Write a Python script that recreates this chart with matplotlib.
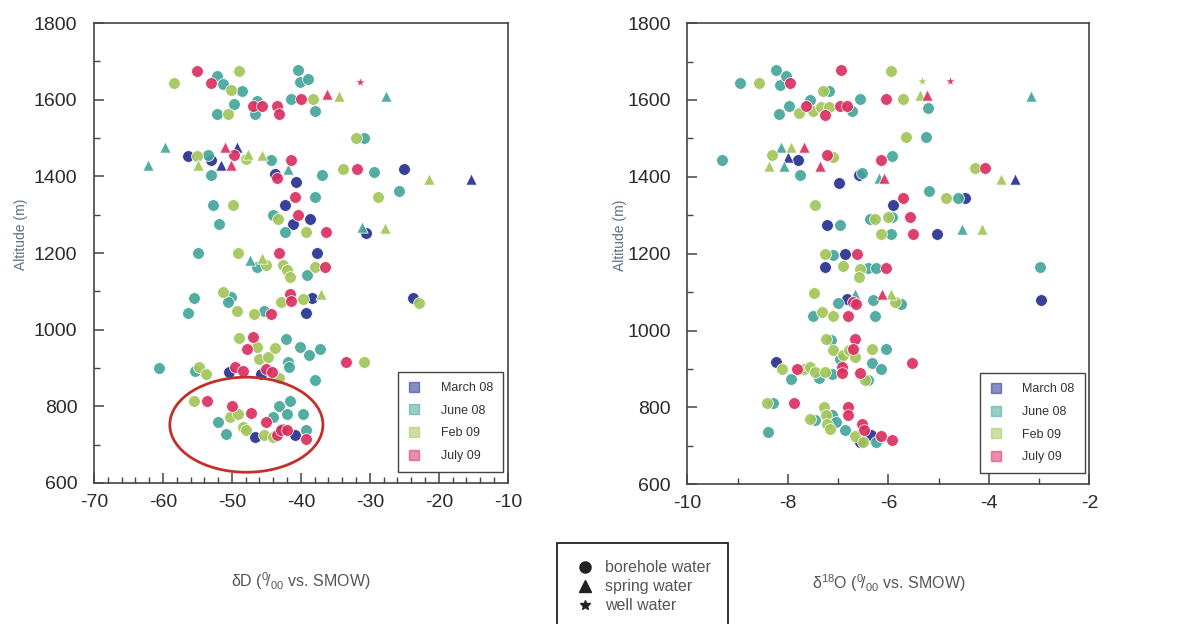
import matplotlib
matplotlib.use("Agg")
import matplotlib.pyplot as plt
from matplotlib.lines import Line2D
from matplotlib.patches import Ellipse
from matplotlib.ticker import MultipleLocator

plt.rcParams['font.family'] = ['Liberation Sans', 'DejaVu Sans']
plt.rcParams['mathtext.fontset'] = 'custom'
plt.rcParams['mathtext.rm'] = 'Liberation Sans'
plt.rcParams['mathtext.it'] = 'Liberation Sans'
plt.rcParams['axes.unicode_minus'] = False

seasons = ['March 08', 'June 08', 'Feb 09', 'July 09']
season_colors = ['#27318f', '#45a69b', '#a3c65a', '#da2f60']
water_types = ['borehole water', 'spring water', 'well water']

# ---- left panel: dD vs altitude  (kind: o borehole, ^ spring, * well)
dD_mar_x = [-56.4, -53.0, -43.8, -40.7, -25.1, -42.3, -41.2, -38.7, -30.5, -37.6, -38.4, -39.3, -23.8,
            -50.4, -45.8, -46.7, -42.7, -40.9, -51.6, -49.2, -15.4]
dD_mar_y = [1452, 1443, 1407, 1385, 1420, 1326, 1276, 1288, 1253, 1201, 1083, 1043, 1083,
            889, 885, 719, 742, 725, 1429, 1477, 1392]
dD_mar_k = "oooooooooooooooooo^^^"

dD_jun_x = [-52.2, -51.3, -48.5, -49.7, -52.1, -46.4, -46.7, -40.4, -40.2, -39.0, -41.5, -38.0, -30.8,
            -53.4, -53.0, -44.4, -37.0, -29.4, -52.7, -37.9, -25.8, -44.1, -51.8, -42.3, -54.9, -46.4,
            -39.1, -55.5, -50.1, -50.6, -56.4, -45.4, -42.2, -40.2, -38.8, -37.2, -41.9, -41.7, -60.5,
            -55.4, -38.0, -52.0, -50.8, -44.1, -43.1, -41.6, -42.0, -39.7, -39.3,
            -59.7, -62.1, -41.9, -27.6, -31.1, -47.4]
dD_jun_y = [1661, 1642, 1624, 1588, 1562, 1598, 1563, 1677, 1646, 1653, 1603, 1570, 1501,
            1455, 1403, 1443, 1403, 1411, 1326, 1346, 1362, 1300, 1276, 1255, 1201, 1163,
            1142, 1083, 1085, 1072, 1044, 1049, 976, 956, 935, 950, 915, 902, 900,
            892, 870, 759, 727, 771, 800, 814, 781, 781, 739,
            1477, 1429, 1420, 1611, 1268, 1183]
dD_jun_k = "o" * 49 + "^^^^^^"

dD_feb_x = [-58.4, -50.2, -49.0, -50.5, -38.2, -32.0, -55.1, -47.9, -33.9, -49.8, -28.8, -43.3, -39.3,
            -49.1, -45.0, -42.6, -42.0, -41.6, -38.0, -51.3, -49.3, -46.8, -42.9, -39.7, -22.9, -49.0,
            -46.4, -46.0, -44.7, -43.7, -30.8, -54.7, -53.8, -43.1, -55.5, -50.3, -49.1, -48.4, -47.9,
            -45.3, -44.0,
            -34.5, -54.9, -47.6, -45.6, -21.4, -27.8, -45.7, -37.1]
dD_feb_y = [1643, 1626, 1675, 1562, 1603, 1501, 1452, 1446, 1420, 1326, 1346, 1290, 1255,
            1201, 1168, 1168, 1155, 1137, 1163, 1098, 1050, 1042, 1072, 1081, 1070, 978,
            954, 924, 928, 952, 915, 902, 885, 874, 814, 772, 781, 746, 738,
            725, 719,
            1611, 1429, 1459, 1457, 1392, 1266, 1188, 1094]
dD_feb_k = "o" * 41 + "^" * 8

dD_jul_x = [-55.0, -53.1, -46.9, -45.7, -43.5, -43.2, -40.0, -49.7, -41.4, -43.4, -31.8, -40.9, -40.4,
            -36.3, -43.2, -36.5, -44.4, -41.6, -41.4, -47.0, -47.8, -33.5, -49.6, -48.4, -45.0, -44.2,
            -53.6, -50.0, -47.3, -45.0, -43.5, -42.9, -42.0, -39.3,
            -36.2, -51.0, -50.1, -31.4]
dD_jul_y = [1675, 1643, 1583, 1583, 1583, 1562, 1603, 1455, 1443, 1396, 1420, 1346, 1300,
            1255, 1201, 1163, 1042, 1094, 1076, 980, 950, 915, 902, 892, 898, 889,
            814, 800, 783, 759, 725, 738, 738, 716,
            1614, 1477, 1429, 1646]
dD_jul_k = "o" * 34 + "^^^*"

# ---- right panel: d18O vs altitude
dO_mar_x = [-7.79, -6.98, -6.58, -4.48, -5.91, -7.23, -5.03, -6.87, -7.26, -6.83, -2.96, -8.23, -6.57, -6.34,
            -8.00, -3.49]
dO_mar_y = [1445, 1384, 1404, 1346, 1326, 1274, 1252, 1200, 1165, 1083, 1080, 918, 710, 727,
            1452, 1393]
dO_mar_k = "o" * 14 + "^^"

dO_jun_x = [-8.95, -8.23, -8.16, -8.03, -8.17, -7.97, -7.55, -7.18, -6.72, -6.57, -5.21, -5.25, -9.32,
            -7.76, -6.52, -5.92, -5.19, -4.62, -6.37, -5.93, -6.97, -5.94, -7.11, -6.40, -6.24, -2.98,
            -7.00, -6.30, -5.74, -7.50, -6.27, -7.15, -6.96, -6.05, -6.32, -6.14, -7.94, -7.39, -7.13,
            -6.40, -8.30, -8.40, -7.46, -7.13, -7.04, -6.86, -6.25,
            -8.13, -8.08, -6.19, -3.16, -4.53, -6.67]
dO_jun_y = [1643, 1677, 1639, 1663, 1563, 1584, 1600, 1624, 1572, 1603, 1578, 1504, 1443,
            1404, 1409, 1454, 1363, 1346, 1289, 1296, 1274, 1252, 1196, 1163, 1163, 1165,
            1071, 1080, 1070, 1039, 1039, 976, 926, 951, 915, 900, 874, 877, 887,
            870, 811, 736, 768, 779, 762, 740, 710,
            1478, 1428, 1396, 1611, 1265, 1096]
dO_jun_k = "o" * 47 + "^" * 6

dO_feb_x = [-8.57, -7.77, -7.50, -7.31, -7.35, -7.18, -5.71, -5.94, -5.64, -8.32, -7.10, -4.28, -4.86,
            -7.46, -6.27, -6.01, -6.14, -7.26, -6.90, -6.57, -6.58, -7.48, -5.87, -7.33, -7.10, -7.24,
            -7.10, -6.90, -6.78, -6.67, -6.32, -8.12, -7.68, -7.56, -7.46, -7.26, -6.47, -8.42, -7.56,
            -7.29, -7.24, -7.23, -7.17, -6.67, -6.50,
            -8.37, -7.93, -5.38, -3.76, -4.13, -5.94, -5.34]
dO_feb_y = [1643, 1565, 1570, 1624, 1581, 1581, 1603, 1675, 1504, 1457, 1452, 1422, 1346,
            1326, 1289, 1296, 1252, 1200, 1167, 1161, 1139, 1097, 1074, 1048, 1039, 977,
            948, 935, 950, 931, 952, 900, 900, 905, 892, 892, 872, 811, 771,
            801, 779, 758, 745, 725, 710,
            1428, 1478, 1613, 1393, 1265, 1096, 1648]
dO_feb_k = "o" * 45 + "^" * 6 + "*"

dO_jul_x = [-7.95, -7.64, -7.26, -6.95, -6.97, -6.83, -6.05, -7.22, -6.14, -4.07, -5.70, -5.56, -5.51,
            -6.62, -6.05, -6.70, -6.65, -6.81, -6.67, -6.71, -5.52, -7.82, -6.93, -6.93, -6.57, -7.87,
            -6.80, -6.80, -6.53, -6.49, -6.14, -5.92,
            -5.23, -7.68, -7.36, -6.09, -6.13, -4.77]
dO_jul_y = [1643, 1584, 1561, 1677, 1583, 1583, 1603, 1457, 1443, 1422, 1346, 1296, 1252,
            1200, 1163, 1074, 1068, 1039, 978, 952, 915, 900, 905, 889, 889, 811,
            801, 779, 758, 740, 725, 714,
            1613, 1478, 1428, 1396, 1096, 1648]
dO_jul_k = "o" * 32 + "^" * 5 + "*"

left_series = [(dD_mar_x, dD_mar_y, dD_mar_k), (dD_jun_x, dD_jun_y, dD_jun_k),
               (dD_feb_x, dD_feb_y, dD_feb_k), (dD_jul_x, dD_jul_y, dD_jul_k)]
right_series = [(dO_mar_x, dO_mar_y, dO_mar_k), (dO_jun_x, dO_jun_y, dO_jun_k),
                (dO_feb_x, dO_feb_y, dO_feb_k), (dO_jul_x, dO_jul_y, dO_jul_k)]

marker_size = {'o': 72, '^': 66, '*': 60}
tick_col = '#2b2b2b'
label_col = '#5b6f8c'


def draw_points(ax, series):
    for (xs, ys, ks), col in zip(series, season_colors):
        for m in 'o^*':
            px = [x for x, k in zip(xs, ks) if k == m]
            py = [y for y, k in zip(ys, ks) if k == m]
            if px:
                ax.scatter(px, py, s=marker_size[m], marker=m, c=col,
                           edgecolors='white', linewidths=0.6, alpha=0.92, zorder=3)


def style_axes(ax, xmin, xmax, xmaj, xmin_step):
    ax.set_xlim(xmin, xmax)
    ax.set_ylim(600, 1800)
    ax.xaxis.set_major_locator(MultipleLocator(xmaj))
    ax.xaxis.set_minor_locator(MultipleLocator(xmin_step))
    ax.yaxis.set_major_locator(MultipleLocator(200))
    ax.yaxis.set_minor_locator(MultipleLocator(100))
    ax.tick_params(which='both', direction='in', colors='#444444', labelcolor=tick_col,
                   labelsize=14, top=False, right=False)
    ax.tick_params(which='major', length=7, width=1.1)
    ax.tick_params(which='minor', length=4, width=1.0)
    ax.tick_params(axis='y', pad=12)
    ax.tick_params(axis='x', pad=8)
    for sp in ax.spines.values():
        sp.set_color('#444444')
        sp.set_linewidth(1.2)
    ax.set_ylabel('Altitude (m)', color=label_col, fontsize=10)
    ax.yaxis.set_label_coords(-0.16, 0.54)
    handles = [Line2D([], [], marker='s', ls='none', markersize=7, markerfacecolor=c,
                      markeredgecolor=c, alpha=0.55) for c in season_colors]
    leg = ax.legend(handles, seasons, loc='lower right', bbox_to_anchor=(0.988, 0.024),
                    borderaxespad=0, fancybox=False, framealpha=1, edgecolor='#444444',
                    fontsize=9, labelspacing=0.85, handletextpad=1.6, borderpad=0.8,
                    handlelength=1.0, labelcolor='#333333')
    leg.get_frame().set_linewidth(1.0)
    leg.set_zorder(5)


fig = plt.figure(figsize=(11.79, 6.24), dpi=100)
ax1 = fig.add_axes([0.0797, 0.226, 0.351, 0.737])
ax2 = fig.add_axes([0.583, 0.224, 0.341, 0.739])

draw_points(ax1, left_series)
draw_points(ax2, right_series)
style_axes(ax1, -70, -10, 10, 2)
style_axes(ax2, -10, -2, 2, 1)
ax2.yaxis.set_label_coords(-0.15, 0.54)

ax1.add_patch(Ellipse((-47.9, 752), 22.2, 248, fill=False, edgecolor='#c3302b', lw=2.0, zorder=4))

ax1.set_xlabel(r'δD ($^{0}\!/_{00}$ vs. SMOW)', color='#555555', fontsize=11.5)
ax1.xaxis.set_label_coords(0.5, -0.19)
ax2.set_xlabel(r'δ$^{18}$O ($^{0}\!/_{00}$ vs. SMOW)', color='#555555', fontsize=11.5)
ax2.xaxis.set_label_coords(0.5, -0.19)

type_handles = [Line2D([], [], marker=m, ls='none', color='#222222', markersize=ms)
                for m, ms in zip('o^*', [8, 8, 7])]
fl = fig.legend(type_handles, water_types, loc='upper left', bbox_to_anchor=(0.466, 0.142),
                fancybox=False, framealpha=1, edgecolor='#222222', fontsize=11.5,
                labelspacing=0.25, handletextpad=0.55, borderpad=1.05, handlelength=1.4,
                labelcolor='#555555')
fl.get_frame().set_linewidth(1.3)

fig.savefig('out.png', dpi=100)
